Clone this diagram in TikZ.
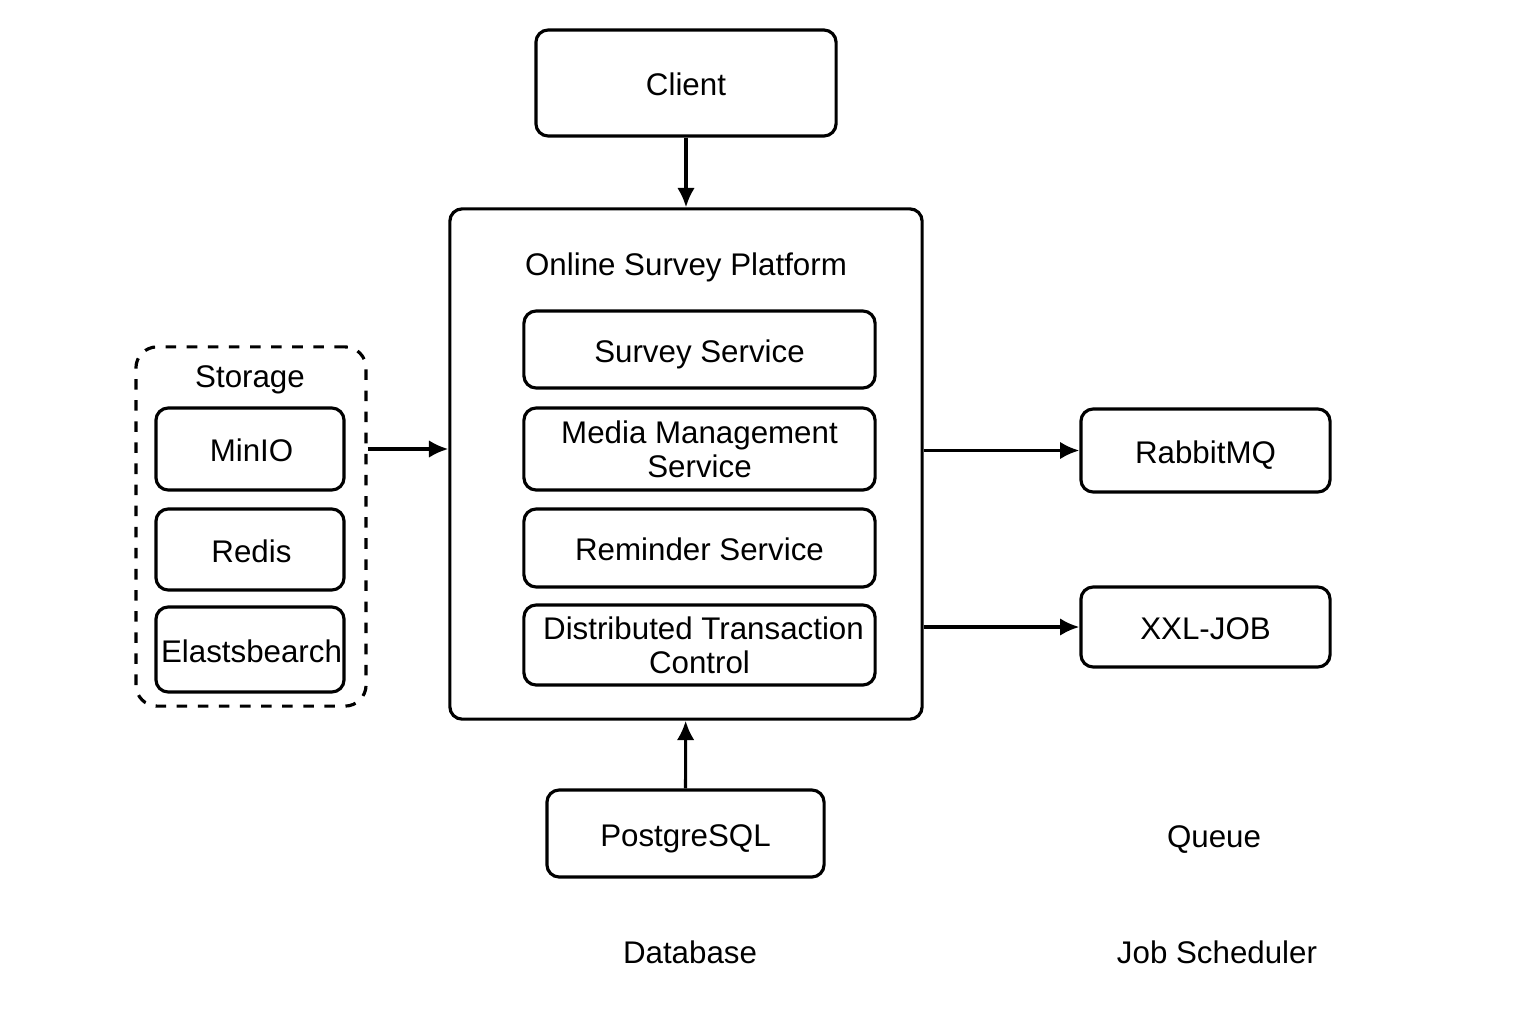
\documentclass[tikz,border=0pt]{standalone}
\usepackage{fontspec}
\setmainfont{Liberation Sans}
\usepackage{tikz}
\usetikzlibrary{arrows.meta}

\begin{document}
\begin{tikzpicture}[x=0.01cm, y=-0.01cm, line width=0.9pt,
    box/.style = {draw, rounded corners=3.5pt, align=center, inner sep=0pt},
    one/.style = {text height=0.72em, text depth=0pt},
    grp/.style = {draw, dashed, rounded corners=6pt, inner sep=0pt},
    lbl/.style = {inner sep=0pt, text height=0.72em, text depth=0pt},
    arr/.style = {-{Latex[length=5.5pt, width=5pt]}},
    every node/.append style = {font=\fontsize{8.9}{9.6}\selectfont}]
    \useasboundingbox (0,0) rectangle (1536,1024);

    % draw client and platform
    \node[box, one, minimum width=3.0cm, minimum height=1.06cm] (client) at (686,83) {Client};
    \node[box, minimum width=4.72cm, minimum height=5.10cm] (platform) at (686,464) {};
    \node[lbl] (title) at (686,263) {Online Survey Platform};

    % draw services inside platform
    \node[box, one, minimum width=3.51cm, minimum height=0.77cm] (survey)   at (699.5,349.5) {Survey Service};
    \node[box, minimum width=3.51cm, minimum height=0.82cm] (media)    at (699.5,449)   {Media Management\\Service};
    \node[box, one, minimum width=3.51cm, minimum height=0.78cm] (reminder) at (699.5,548)   {Reminder Service};
    \node[box, minimum width=3.51cm, minimum height=0.80cm] (dtx)      at (699.5,645)   {\hspace*{0.08cm}Distributed Transaction\\Control};

    % draw dashed storage group
    \node[grp, minimum width=2.30cm, minimum height=3.59cm] (storage) at (251,526.5) {};
    \node[lbl] (storagetitle) at (250,375) {Storage};
    \node[box, one, minimum width=1.88cm, minimum height=0.82cm] (minio) at (250,449)   {\hspace*{0.03cm}MinIO};
    \node[box, one, minimum width=1.88cm, minimum height=0.81cm] (redis) at (250,549.5) {\hspace*{0.03cm}Redis};
    \node[box, one, minimum width=1.88cm, minimum height=0.85cm] (elastic) at (250,649.5) {\hspace*{0.03cm}Elastsbearch};

    % draw outer services
    \node[box, one, minimum width=2.49cm, minimum height=0.83cm] (rabbit) at (1205.5,450.5) {RabbitMQ};
    \node[box, one, minimum width=2.49cm, minimum height=0.80cm] (xxl)    at (1205.5,627)   {XXL-JOB};
    \node[box, one, minimum width=2.77cm, minimum height=0.87cm] (pg)     at (685.5,833.5)  {PostgreSQL};

    % draw loose labels
    \node[lbl] (queue)     at (1214,835) {Queue};
    \node[lbl] (database)  at (690,951)  {Database};
    \node[lbl] (scheduler) at (1217,951) {Job Scheduler};

    % draw arrows
    \draw[arr] (client) -- (platform);
    \draw[arr] (pg) -- (platform);
    \draw[arr] (storage.east |- minio) -- (platform.west |- minio);
    \draw[arr] (platform.east |- rabbit) -- (rabbit.west);
    \draw[arr] (platform.east |- xxl) -- (xxl.west);

\end{tikzpicture}
\end{document}
